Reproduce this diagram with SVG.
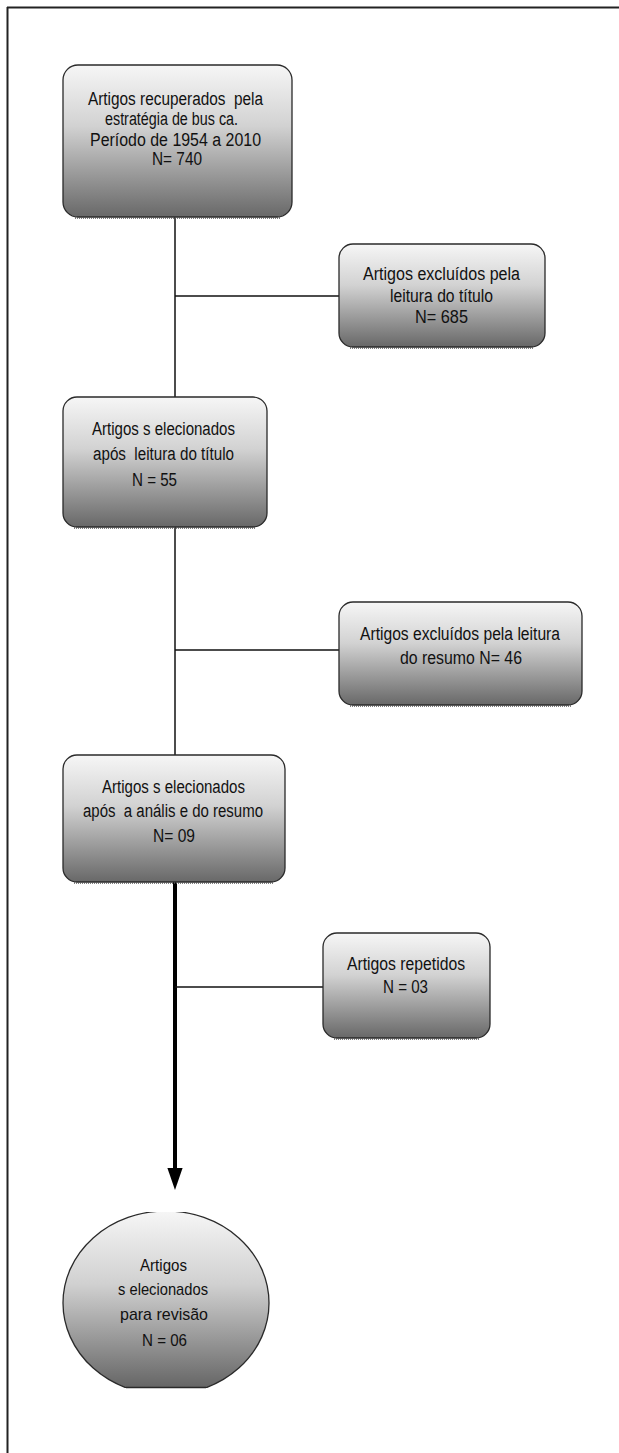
<svg xmlns="http://www.w3.org/2000/svg" width="619" height="1453" viewBox="0 0 619 1453">
<style>
.box{fill:url(#g);stroke:#2a2a2a;stroke-width:1.3}
.shadow{fill:none;stroke:#555;stroke-width:1.5;stroke-dasharray:1 1}
.t{font-family:"Liberation Sans Narrow","Liberation Sans",Arial,sans-serif;font-size:18px;fill:#111;text-anchor:middle;white-space:pre}
.te{font-family:"Liberation Sans Narrow","Liberation Sans",Arial,sans-serif;font-size:17px;fill:#111;text-anchor:middle}
.thin{stroke:#111;stroke-width:1.5;fill:none}
.thick{stroke:#000;stroke-width:4;fill:none}
</style>
<defs>
<linearGradient id="g" x1="0" y1="0" x2="0" y2="1">
<stop offset="0" stop-color="#f6f6f6"/>
<stop offset="0.4" stop-color="#d2d2d2"/>
<stop offset="1" stop-color="#686868"/>
</linearGradient>
<linearGradient id="ge" x1="0" y1="0" x2="0" y2="1">
<stop offset="0" stop-color="#f6f6f6"/>
<stop offset="0.4" stop-color="#d0d0d0"/>
<stop offset="1" stop-color="#5e5e5e"/>
</linearGradient>
<clipPath id="ec"><rect x="0" y="1212" width="619" height="176"/></clipPath>
<marker id="ah" markerWidth="5.5" markerHeight="3.8" refX="0" refY="1.9" orient="auto" markerUnits="strokeWidth">
<path d="M0,0 L5.5,1.9 L0,3.8 Z" fill="#000"/>
</marker>
</defs>
<rect width="619" height="1453" fill="#fff"/>
<g id="frame">
<line x1="7.5" y1="7" x2="7.5" y2="1453" stroke="#222" stroke-width="2"/>
<line x1="7" y1="7.5" x2="619" y2="7.5" stroke="#222" stroke-width="2"/>
</g>
<g id="connectors">
<line class="thin" x1="175" y1="217" x2="175" y2="397"/>
<line class="thin" x1="175" y1="296" x2="339" y2="296"/>
<line class="thin" x1="175" y1="527" x2="175" y2="755"/>
<line class="thin" x1="175" y1="650" x2="339" y2="650"/>
<line class="thick" x1="175" y1="882" x2="175" y2="1168" marker-end="url(#ah)"/>
<line class="thin" x1="175" y1="987" x2="323" y2="987"/>
</g>
<g id="n1">
<rect class="box" x="63" y="65" width="229" height="152" rx="15"/>
<line class="shadow" x1="75" y1="218" x2="280" y2="218"/>
<text class="t" x="175.5" y="105" textLength="175" lengthAdjust="spacingAndGlyphs">Artigos recuperados  pela</text>
<text class="t" x="171.5" y="125" textLength="133" lengthAdjust="spacingAndGlyphs">estratégia de bus ca.</text>
<text class="t" x="175.5" y="146" textLength="171" lengthAdjust="spacingAndGlyphs">Período de 1954 a 2010</text>
<text class="t" x="177" y="165" textLength="50" lengthAdjust="spacingAndGlyphs">N= 740</text>
</g>
<g id="n2">
<rect class="box" x="339" y="244" width="206" height="103" rx="14"/>
<line class="shadow" x1="350" y1="348" x2="534" y2="348"/>
<text class="t" x="441.5" y="280" textLength="157" lengthAdjust="spacingAndGlyphs">Artigos excluídos pela</text>
<text class="t" x="441.5" y="302" textLength="103" lengthAdjust="spacingAndGlyphs">leitura do título</text>
<text class="t" x="441.5" y="323" textLength="53" lengthAdjust="spacingAndGlyphs">N= 685</text>
</g>
<g id="n3">
<rect class="box" x="63" y="397" width="204" height="130" rx="14"/>
<line class="shadow" x1="74" y1="528" x2="256" y2="528"/>
<text class="t" x="163.5" y="435" textLength="143" lengthAdjust="spacingAndGlyphs">Artigos s elecionados</text>
<text class="t" x="163.5" y="460" textLength="141" lengthAdjust="spacingAndGlyphs">após  leitura do título</text>
<text class="t" x="154.5" y="486" textLength="45" lengthAdjust="spacingAndGlyphs">N = 55</text>
</g>
<g id="n4">
<rect class="box" x="339" y="602" width="243" height="103" rx="14"/>
<line class="shadow" x1="350" y1="706" x2="571" y2="706"/>
<text class="t" x="460" y="640" textLength="200" lengthAdjust="spacingAndGlyphs">Artigos excluídos pela leitura</text>
<text class="t" x="461" y="664" textLength="122" lengthAdjust="spacingAndGlyphs">do resumo N= 46</text>
</g>
<g id="n5">
<rect class="box" x="63" y="755" width="222" height="127" rx="14"/>
<line class="shadow" x1="74" y1="883" x2="274" y2="883"/>
<text class="t" x="173.5" y="793" textLength="143" lengthAdjust="spacingAndGlyphs">Artigos s elecionados</text>
<text class="t" x="173" y="817" textLength="180" lengthAdjust="spacingAndGlyphs">após  a anális e do resumo</text>
<text class="t" x="174" y="842" textLength="42" lengthAdjust="spacingAndGlyphs">N= 09</text>
</g>
<g id="n6">
<rect class="box" x="323" y="933" width="167" height="105" rx="14"/>
<line class="shadow" x1="334" y1="1039" x2="479" y2="1039"/>
<text class="t" x="406" y="970" textLength="118" lengthAdjust="spacingAndGlyphs">Artigos repetidos</text>
<text class="t" x="405.5" y="993" textLength="45" lengthAdjust="spacingAndGlyphs">N = 03</text>
</g>
<g id="n7">
<ellipse cx="166" cy="1303" rx="103" ry="92" fill="url(#ge)" stroke="#2a2a2a" stroke-width="1.3" clip-path="url(#ec)"/>
<line x1="126" y1="1387.5" x2="206" y2="1387.5" stroke="#2a2a2a" stroke-width="1.3"/>
<text class="te" x="163.5" y="1271" textLength="47" lengthAdjust="spacingAndGlyphs">Artigos</text>
<text class="te" x="163" y="1295" textLength="90" lengthAdjust="spacingAndGlyphs">s elecionados</text>
<text class="te" x="164" y="1320" textLength="88" lengthAdjust="spacingAndGlyphs">para revisão</text>
<text class="te" x="164.5" y="1346" textLength="45" lengthAdjust="spacingAndGlyphs">N = 06</text>
</g>
</svg>
